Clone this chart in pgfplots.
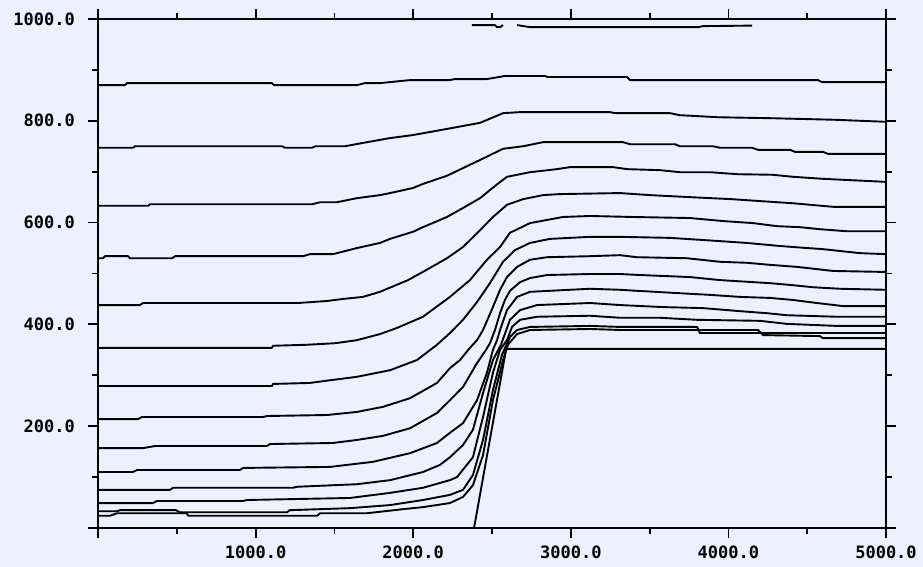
\documentclass[border=0pt]{standalone}
\usepackage{fontspec}
\newfontfamily\tickfont{DejaVu Sans Mono}
\usepackage{pgfplots}
\pgfplotsset{compat=1.18}
\usetikzlibrary{backgrounds}
\definecolor{bg}{RGB}{238,240,255}
\pgfplotsset{ln/.style={black, solid, line width=1.9pt, line join=round, mark=none}}
\begin{document}
\begin{tikzpicture}
\begin{axis}[name=ax, at={(0,0)}, anchor=south west,
  scale only axis, width=788pt, height=509pt,
  xmin=0, xmax=5000, ymin=0, ymax=1000,
  axis line style={line width=2pt, black},
  tick align=outside,
  xtick={0,1000,2000,3000,4000,5000},
  xticklabels={,1000.0,2000.0,3000.0,4000.0,5000.0},
  ytick={0,200,400,600,800,1000},
  yticklabels={,200.0,400.0,600.0,800.0,1000.0},
  minor x tick num=1, minor y tick num=1,
  major tick length=10pt, minor tick length=6pt,
  tick style={line width=1.8pt, black},
  ticklabel style={font=\tickfont\bfseries\fontsize{17}{17}\selectfont},
  xticklabel style={anchor=north, inner sep=0pt, yshift=-8pt},
  yticklabel style={anchor=east, inner sep=0pt, xshift=-13pt},
]
% line 1
\addplot[ln] coordinates {(0,870)(171,870)(184,874)(1104,874)(1117,870)(1643,870)(1694,874)(1789,874)(1980,880)(2233,880)(2265,882)(2468,882)(2582,888)(2836,888)(2855,886)(3357,886)(3376,880)(4568,880)(4594,876)(5000,876)};
% line 2
\addplot[ln] coordinates {(0,747)(222,747)(235,750)(1167,750)(1187,747)(1358,747)(1380,750)(1567,750)(1707,758)(1853,766)(1999,772)(2214,784)(2424,796)(2570,815)(2677,817)(3249,817)(3280,815)(3629,815)(3693,811)(3934,807)(4283,805)(4676,802)(5000,798)};
% line 3
\addplot[ln] coordinates {(0,633)(317,633)(330,636)(1358,636)(1409,640)(1516,640)(1643,648)(1789,654)(1853,658)(1999,668)(2062,676)(2214,692)(2424,723)(2570,745)(2697,750)(2824,758)(3331,758)(3376,754)(3661,754)(3693,750)(3902,750)(3947,747)(4150,747)(4188,743)(4391,743)(4422,739)(4600,739)(4632,735)(5000,735)};
% line 4
\addplot[ln] coordinates {(0,530)(32,530)(44,534)(190,534)(203,530)(470,530)(489,534)(1301,534)(1345,538)(1491,538)(1643,550)(1789,560)(1853,568)(1999,582)(2062,591)(2214,611)(2329,631)(2424,648)(2519,672)(2595,690)(2741,699)(2912,705)(2995,709)(3268,709)(3357,705)(3566,703)(3693,699)(3883,699)(4061,695)(4277,694)(4410,690)(4600,686)(5000,680)};
% line 5
\addplot[ln] coordinates {(0,438)(266,438)(286,442)(1269,442)(1453,446)(1555,450)(1681,454)(1789,464)(1967,487)(2107,511)(2214,530)(2316,552)(2424,585)(2506,611)(2595,635)(2697,646)(2824,654)(2931,656)(3312,658)(3502,654)(3756,650)(4023,646)(4213,642)(4410,638)(4664,631)(5000,631)};
% line 6
\addplot[ln] coordinates {(0,354)(1104,354)(1110,358)(1326,360)(1504,363)(1643,369)(1789,381)(1897,393)(2062,415)(2233,454)(2360,487)(2468,527)(2551,552)(2614,580)(2741,599)(2950,611)(3122,613)(3395,611)(3756,609)(3966,603)(4156,599)(4308,593)(4454,591)(4581,587)(4752,583)(5000,583)};
% line 7
\addplot[ln] coordinates {(0,279)(1104,279)(1110,283)(1345,285)(1491,291)(1643,297)(1853,310)(2024,330)(2151,360)(2233,383)(2316,409)(2405,444)(2487,481)(2570,523)(2646,546)(2741,560)(2868,568)(3122,572)(3312,572)(3629,570)(3928,564)(4118,560)(4327,554)(4499,550)(4594,548)(4835,540)(5000,538)};
% line 8
\addplot[ln] coordinates {(0,214)(254,214)(279,218)(1047,218)(1072,220)(1453,222)(1643,228)(1808,238)(1980,255)(2151,285)(2233,314)(2297,330)(2360,354)(2405,369)(2443,389)(2506,434)(2551,468)(2595,493)(2659,513)(2741,527)(2849,532)(3122,534)(3312,536)(3420,532)(3737,530)(3947,523)(4118,521)(4264,517)(4435,513)(4664,505)(5000,503)};
% line 9
\addplot[ln] coordinates {(0,157)(286,157)(362,161)(1072,161)(1091,165)(1491,167)(1643,173)(1808,181)(1980,196)(2151,226)(2233,251)(2316,277)(2405,324)(2462,350)(2487,363)(2519,389)(2551,422)(2582,448)(2614,466)(2678,483)(2741,491)(2849,497)(3122,499)(3312,499)(3439,497)(3756,493)(3947,487)(4264,481)(4410,477)(4537,473)(4708,470)(5000,468)};
% line 10
\addplot[ln] coordinates {(0,110)(222,110)(247,114)(901,114)(920,118)(1472,120)(1745,130)(1980,147)(2151,167)(2233,187)(2316,206)(2405,251)(2468,305)(2506,350)(2532,369)(2551,389)(2595,428)(2659,454)(2741,464)(3122,470)(3312,468)(3420,466)(3648,462)(3883,458)(4073,454)(4264,452)(4410,448)(4562,442)(4727,436)(5000,436)};
% line 11
\addplot[ln] coordinates {(0,75)(457,75)(476,79)(1237,79)(1263,81)(1643,86)(1853,94)(2062,110)(2170,124)(2233,139)(2316,163)(2379,193)(2443,265)(2506,330)(2557,360)(2614,409)(2678,428)(2785,438)(3122,442)(3312,438)(3585,434)(3839,432)(4073,426)(4245,422)(4372,418)(4689,415)(5000,415)};
% line 12
\addplot[ln] coordinates {(0,49)(349,49)(374,53)(920,53)(945,55)(1599,59)(1853,69)(2062,79)(2233,94)(2278,100)(2379,139)(2443,218)(2506,305)(2551,350)(2595,369)(2627,395)(2678,409)(2785,415)(3122,417)(3312,413)(3566,413)(3801,409)(4200,407)(4372,401)(4689,397)(5000,397)};
% line 13
\addplot[ln] coordinates {(0,33)(121,33)(140,35)(495,35)(520,31)(1199,31)(1218,35)(1599,39)(1853,45)(2062,55)(2233,65)(2316,75)(2379,104)(2443,173)(2506,271)(2563,340)(2614,375)(2659,389)(2741,395)(3122,397)(3312,395)(3801,395)(3820,383)(5000,383)};
% line 14
\addplot[ln] coordinates {(0,24)(76,24)(121,29)(565,29)(571,24)(1390,24)(1409,29)(1707,29)(1935,37)(2062,41)(2233,49)(2316,61)(2379,84)(2443,143)(2506,251)(2570,330)(2601,360)(2659,381)(2741,389)(3122,391)(3312,389)(4188,389)(4219,379)(4581,377)(4600,373)(5000,373)};
% topography
\addplot[ln] coordinates {(2386,0)(2590,352)(5000,352)};
% partial line near top
\addplot[ln] coordinates {(2373,988)(2519,988)(2532,984)(2551,984)(2570,988)};
\addplot[ln] coordinates {(2659,988)(2741,984)(3807,984)(3839,986)(4150,987)};
% right boundary
\addplot[ln, line width=2.8pt] coordinates {(5000,0)(5000,1000)};
\end{axis}
\begin{scope}[on background layer]
\fill[bg] (-98pt,-39pt) rectangle (825pt,528pt);
\end{scope}
\pgfresetboundingbox
\useasboundingbox (-98pt,-39pt) rectangle (825pt,528pt);
\end{tikzpicture}
\end{document}
